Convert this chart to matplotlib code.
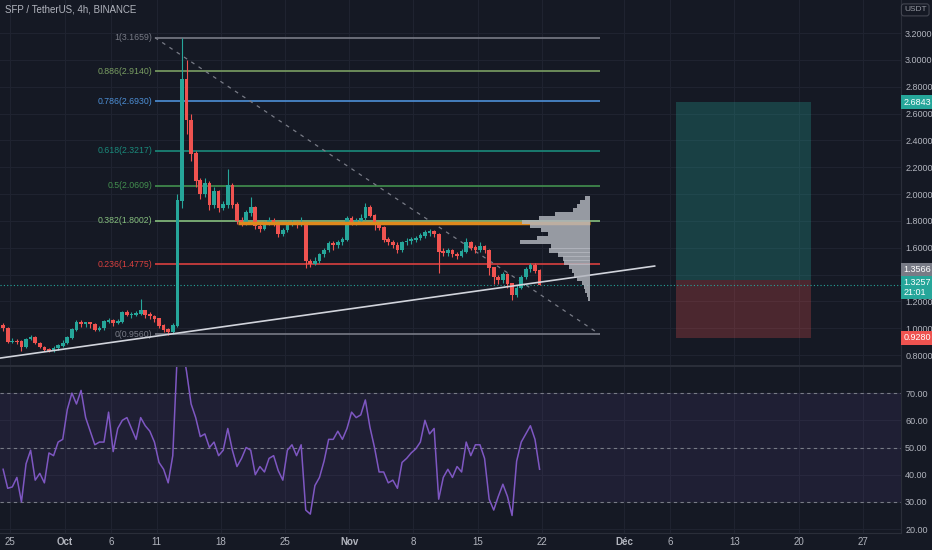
import numpy as np
import matplotlib
matplotlib.use("Agg")
import matplotlib.pyplot as plt

# x axis = days since 25 Sep 2021, one candle = 12h
closes = [1.00, 0.90, 0.905, 0.90, 0.86, 0.92, 0.93, 0.89, 0.86, 0.84,
          0.83, 0.85, 0.87, 0.89, 0.93, 0.99, 1.04, 1.03, 1.04, 1.03,
          0.99, 1.00, 1.05, 1.06, 1.04, 1.05, 1.12, 1.10, 1.10, 1.11,
          1.13, 1.10, 1.09, 1.07, 1.02, 0.99, 0.97, 1.02, 1.95, 2.85,
          2.55, 2.30, 2.10, 2.00, 2.08, 1.92, 2.02, 1.90, 1.92, 2.06,
          1.92, 1.80, 1.78, 1.86, 1.90, 1.76, 1.74, 1.78, 1.80, 1.79,
          1.70, 1.73, 1.78, 1.79, 1.77, 1.78, 1.50, 1.48, 1.50, 1.55,
          1.58, 1.63, 1.62, 1.64, 1.66, 1.82, 1.79, 1.80, 1.82, 1.90,
          1.84, 1.77, 1.75, 1.66, 1.64, 1.62, 1.58, 1.64, 1.65, 1.66,
          1.67, 1.69, 1.71, 1.72, 1.70, 1.57, 1.56, 1.58, 1.55, 1.54,
          1.57, 1.64, 1.60, 1.58, 1.61, 1.58, 1.45, 1.38, 1.36, 1.40,
          1.33, 1.25, 1.30, 1.38, 1.44, 1.47, 1.43, 1.3257]
highs = [1.04, 1.01, 0.93, 0.92, 0.91, 0.93, 0.95, 0.94, 0.90, 0.87,
         0.85, 0.87, 0.88, 0.91, 0.94, 1.00, 1.06, 1.06, 1.05, 1.05,
         1.04, 1.02, 1.06, 1.08, 1.07, 1.07, 1.13, 1.14, 1.12, 1.13,
         1.22, 1.14, 1.12, 1.10, 1.08, 1.03, 1.00, 1.04, 2.00, 3.1659,
         3.00, 2.60, 2.32, 2.12, 2.12, 2.10, 2.05, 2.03, 1.95, 2.19,
         2.08, 1.94, 1.83, 1.88, 1.98, 1.91, 1.78, 1.80, 1.83, 1.82,
         1.80, 1.75, 1.80, 1.81, 1.80, 1.83, 1.79, 1.52, 1.53, 1.56,
         1.60, 1.65, 1.65, 1.66, 1.68, 1.84, 1.84, 1.82, 1.85, 1.93,
         1.92, 1.85, 1.79, 1.76, 1.68, 1.66, 1.64, 1.65, 1.67, 1.68,
         1.69, 1.71, 1.73, 1.74, 1.73, 1.71, 1.60, 1.60, 1.59, 1.57,
         1.59, 1.67, 1.65, 1.62, 1.64, 1.62, 1.59, 1.46, 1.40, 1.42,
         1.41, 1.34, 1.32, 1.40, 1.46, 1.49, 1.49, 1.44]
lows = [0.98, 0.89, 0.89, 0.88, 0.83, 0.85, 0.91, 0.88, 0.85, 0.83,
        0.82, 0.82, 0.84, 0.86, 0.88, 0.92, 0.98, 1.01, 1.01, 1.00,
        0.98, 0.98, 0.99, 1.04, 1.02, 1.03, 1.04, 1.09, 1.08, 1.09,
        1.10, 1.08, 1.07, 1.05, 1.00, 0.97, 0.95, 0.956, 1.01, 1.90,
        2.45, 2.25, 2.05, 1.96, 1.98, 1.88, 1.90, 1.87, 1.88, 1.90,
        1.90, 1.78, 1.76, 1.77, 1.84, 1.74, 1.72, 1.73, 1.77, 1.76,
        1.68, 1.69, 1.72, 1.76, 1.75, 1.76, 1.45, 1.46, 1.47, 1.49,
        1.53, 1.57, 1.58, 1.60, 1.62, 1.65, 1.77, 1.77, 1.78, 1.81,
        1.83, 1.73, 1.73, 1.64, 1.62, 1.60, 1.56, 1.57, 1.62, 1.63,
        1.64, 1.66, 1.67, 1.69, 1.68, 1.41, 1.54, 1.54, 1.53, 1.52,
        1.53, 1.56, 1.58, 1.56, 1.57, 1.56, 1.40, 1.33, 1.33, 1.34,
        1.30, 1.21, 1.23, 1.29, 1.37, 1.42, 1.41, 1.32]
first_open = 1.02

rsi = [42, 35, 35.5, 39, 30, 44, 49, 38, 40.5, 37,
       48, 47, 52, 53, 64, 70, 66, 71, 61, 56,
       51, 52, 52, 63, 48.5, 57, 60, 61, 57, 53,
       61, 58, 56, 52, 44.5, 42, 37, 47, 85, 88,
       78, 66, 61, 54, 55, 50, 52, 47, 49, 57,
       49, 43, 46, 50, 49, 40, 43, 41, 46, 47,
       41.5, 38, 49, 51, 47, 51, 27, 25.5, 36, 39,
       45, 53, 53, 56, 53, 57, 63, 61, 62, 67.5,
       57.5, 50, 41, 41, 37, 38, 35, 44.5, 46, 48,
       49.5, 52, 60, 55, 57, 31, 39, 42, 39, 43,
       41, 52, 47, 51, 51, 46, 31, 27, 32, 36.5,
       32, 25, 45, 52, 55, 58, 53, 42]

fib_ratios = [1, 0.886, 0.786, 0.618, 0.5, 0.382, 0.236, 0]
fib_prices = [3.1659, 2.9140, 2.6930, 2.3217, 2.0609, 1.8002, 1.4775, 0.9560]
fib_colors = ['#787b86', '#7a9f63', '#4d8fd6', '#1a8a7b', '#43904f', '#86bf7e', '#d9403f', '#787b86']
fib_day0, fib_day1 = 15.8, 64.3

trend_days = [-1.1, 70.3]
trend_prices = [0.778, 1.464]

poc_price = 1.784
poc_days = [24.9, 63.25]

vp_prices = [1.22, 1.25, 1.28, 1.31, 1.34, 1.37, 1.40, 1.43, 1.46, 1.49,
             1.52, 1.55, 1.58, 1.61, 1.64, 1.67, 1.70, 1.73, 1.76, 1.79,
             1.82, 1.85, 1.88, 1.91, 1.94, 1.97]
vp_volume = [2, 3, 5, 6, 8, 13, 16, 19, 22, 27,
             28, 33, 42, 40, 72, 55, 43, 50, 62, 70,
             52, 36, 18, 13, 10, 5]

entry, target, stop = 1.3566, 2.6843, 0.9280
pos_days = [72.6, 87.35]
last_price = 1.3257

tick_days = [0, 6, 11, 16, 23, 30, 37, 44, 51, 58, 67, 72, 79, 86, 93]
tick_labels = ['25', 'Oct', '6', '11', '18', '25', 'Nov', '8', '15', '22', 'Déc', '6', '13', '20', '27']
price_ticks = [0.8, 1.0, 1.2, 1.4, 1.6, 1.8, 2.0, 2.2, 2.4, 2.6, 2.8, 3.0, 3.2]
rsi_ticks = [20, 30, 40, 50, 60, 70]

bg = '#151924'
grid = '#1f2330'
txt = '#b2b5be'
up, down = '#26a69a', '#ef5350'

plt.rcParams['font.family'] = ['Liberation Sans', 'DejaVu Sans']
fig = plt.figure(figsize=(9.32, 5.5), dpi=100, facecolor=bg)
ax = fig.add_axes([0, 0.3345, 0.9667, 0.6655], facecolor=bg)
ax2 = fig.add_axes([0, 0.0309, 0.9667, 0.3018], facecolor=bg)

n = len(closes)
days = np.arange(n) * 0.5 - 0.75
opens = np.array([first_open] + closes[:-1])
closes_a = np.array(closes)
cols = np.where(closes_a >= opens, up, down)

for a in (ax, ax2):
    a.set_xlim(-1.09, 97.16)
    a.set_xticks(tick_days)
    a.grid(True, color=grid, lw=0.8)
    a.set_axisbelow(True)
    for s in ('top', 'left'):
        a.spines[s].set_visible(False)
    a.spines['right'].set_color('#2a2e39')
    a.spines['bottom'].set_color('#2a2e39')
    a.yaxis.tick_right()
    a.tick_params(length=0, colors=txt, labelsize=6.5, pad=3)

ax.set_ylim(0.719, 3.446)
ax.set_yticks(price_ticks)
ax.set_yticklabels(['' if p == 1.4 else '%.4f' % p for p in price_ticks])
ax.tick_params(axis='x', labelbottom=False)
ax.spines['bottom'].set_linewidth(1.5)

# candles
ax.vlines(days, lows, highs, colors=cols, lw=0.8, zorder=3)
ax.bar(days, np.abs(closes_a - opens) + 0.004, bottom=np.minimum(closes_a, opens),
       width=0.4, color=cols, zorder=4)

# fib retracement
for r, p, c in zip(fib_ratios, fib_prices, fib_colors):
    ax.hlines(p, fib_day0, fib_day1, colors=c, lw=1.2, zorder=2)
    ax.text(fib_day0 - 0.25, p, '%g(%.4f)' % (r, p), color=c, fontsize=6.3,
            ha='right', va='center', zorder=5)
ax.plot([fib_day0, fib_day1], [fib_prices[0], fib_prices[-1]], color='#787b86',
        lw=0.9, ls=(0, (3, 4)), zorder=2)

# trend line
ax.plot(trend_days, trend_prices, color='#d1d4dc', lw=1.2, zorder=5)

# point of control + volume profile
ax.hlines(poc_price, poc_days[0], poc_days[1], colors='#e0891c', lw=2.5, zorder=5)
vp_w = np.array(vp_volume) / max(vp_volume) * (70 / 9.17)
ax.barh(vp_prices, vp_w, left=poc_days[1] - vp_w, height=0.031,
        color='#b4b7bf', alpha=0.82, zorder=6, linewidth=0)

# current price
ax.axhline(last_price, color=up, lw=0.8, ls=(0, (1, 2)), zorder=2)

# long position
ax.fill_between(pos_days, entry, target, color='#26a69a', alpha=0.28, lw=0, zorder=1)
ax.fill_between(pos_days, stop, entry, color='#ef5350', alpha=0.25, lw=0, zorder=1)

tr = ax.get_yaxis_transform()
def price_tag(y, s, fc, dy=0, tc='white'):
    ax.annotate(s, xy=(1.003, y), xycoords=tr, xytext=(0, dy), textcoords='offset pixels',
                fontsize=6.5, color=tc, ha='left', va='center', annotation_clip=False,
                linespacing=1.1,
                bbox=dict(boxstyle='square,pad=0.25', fc=fc, ec='none'), zorder=10)

price_tag(target, '%.4f' % target, '#26a69a')
price_tag(entry, '%.4f' % entry, '#787b86', dy=11)
price_tag(last_price, '%.4f\n21:01' % last_price, '#26a69a', dy=-3)
price_tag(stop, '%.4f' % stop, '#ef5350')

# RSI pane
ax2.set_ylim(18.56, 79.6)
ax2.set_yticks(rsi_ticks)
ax2.set_yticklabels(['%.2f' % v for v in rsi_ticks])
ax2.set_xticklabels(tick_labels)
ax2.tick_params(axis='x', labelsize=7)
for lab in ax2.get_xticklabels():
    if lab.get_text() in ('Oct', 'Nov', 'Déc'):
        lab.set_fontweight('bold')
ax2.axhspan(30, 70, color='#7e57c2', alpha=0.1, lw=0)
for lv in (70, 50, 30):
    ax2.axhline(lv, color='#787b86', lw=0.8, ls=(0, (3, 3)))
ax2.plot(days, rsi, color='#7e57c2', lw=1.1, zorder=3)

fig.text(0.005, 0.982, 'SFP / TetherUS, 4h, BINANCE', fontsize=7, color=txt, va='center')
fig.text(0.982, 0.982, 'USDT', fontsize=6, color='#9598a1', ha='center', va='center',
         bbox=dict(boxstyle='round,pad=0.3', fc=bg, ec='#434651', lw=0.8))

fig.savefig('out.png', dpi=100, facecolor=bg)
